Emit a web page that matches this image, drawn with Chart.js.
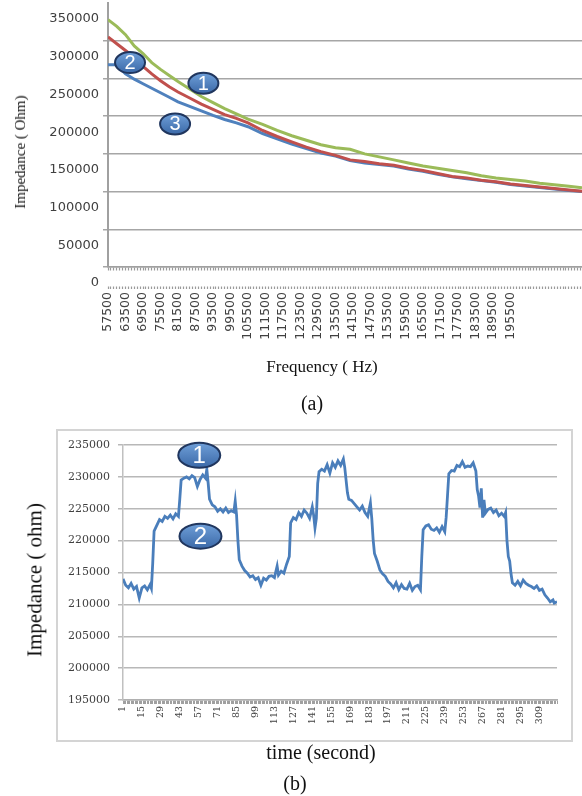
<!DOCTYPE html>
<html lang="en">
<head>
<meta charset="UTF-8">
<title>Impedance charts</title>
<script src="https://cdn.jsdelivr.net/npm/chart.js"></script>
<style>
  body { margin: 0; background: #fff; }
  #page { position: relative; width: 582px; height: 796px; overflow: hidden; background: #fff; }
  .abs { position: absolute; }
  .serif { font-family: 'Liberation Serif', 'Times New Roman', serif; color: #111; white-space: nowrap; line-height: 1.2; }
  .center { transform: translate(-50%, -50%); }
  .vert { transform: translate(-50%, -50%) rotate(-90deg); }
</style>
</head>
<body>
<div id="page">
  <canvas id="chartA" class="abs" width="582" height="390" style="left:0;top:0"></canvas>
  <div class="abs serif vert" style="left:20px;top:152px;font-size:15px">Impedance ( Ohm)</div>
  <div class="abs serif center" style="left:322px;top:367px;font-size:17px">Frequency ( Hz)</div>
  <div class="abs serif center" style="left:312px;top:403px;font-size:20px">(a)</div>

  <div class="abs" style="left:56px;top:429px;width:517px;height:313px;border:2px solid #d4d4d4;box-sizing:border-box"></div>
  <canvas id="chartB" class="abs" width="582" height="376" style="left:0;top:420px"></canvas>
  <div class="abs serif vert" style="left:35px;top:580px;font-size:21px">Impedance ( ohm)</div>
  <div class="abs serif center" style="left:321px;top:752px;font-size:20px">time (second)</div>
  <div class="abs serif center" style="left:295px;top:783px;font-size:20px">(b)</div>
</div>

<script>
// (a) impedance vs frequency, three electrodes
const freqHz = [57500, 60500, 63500, 66500, 69500, 72500, 75500, 78500, 81500, 85500,
  89500, 93500, 97500, 101500, 105500, 110500, 115500, 120500, 125500, 130500,
  135500, 140500, 145500, 150500, 155500, 160500, 165500, 170500, 175500, 180500,
  185500, 190500, 195500, 200500, 205500, 210500, 215500, 220000];
const impedance1 = [328000, 319000, 308000, 293000, 283000, 271000, 262000, 254000, 246000, 236000,
  226000, 218000, 210000, 203000, 196000, 189000, 181000, 174000, 168000, 162000,
  158000, 156000, 150000, 146000, 142000, 138000, 134000, 131000, 128000, 125000,
  121000, 118000, 116000, 114000, 111000, 109000, 107000, 105000];
const impedance2 = [305000, 296000, 287000, 278000, 266000, 256000, 247000, 239000, 232000, 224000,
  216000, 209000, 202000, 197000, 191000, 181000, 173000, 166000, 159000, 153000,
  148000, 142000, 140000, 137000, 135000, 131000, 128000, 124000, 120000, 118000,
  115000, 113000, 110000, 108000, 106000, 104000, 102000, 100500];
const impedance3 = [268000, 268000, 256000, 249000, 243000, 237000, 231000, 225000, 219000, 213000,
  207000, 201000, 195500, 191000, 186000, 177000, 170000, 163000, 157000, 151000,
  147000, 141000, 138000, 136000, 134000, 130000, 127000, 123000, 119500, 117000,
  114500, 112500, 109500, 107500, 105500, 103500, 101500, 100000];
const freqLabels = [57500, 63500, 69500, 75500, 81500, 87500, 93500, 99500, 105500, 111500,
  117500, 123500, 129500, 135500, 141500, 147500, 153500, 159500, 165500, 171500,
  177500, 183500, 189500, 195500];
const calloutsA = [
  { text: '1', x: 90200, y: 243600 },
  { text: '2', x: 65050, y: 271000 },
  { text: '3', x: 80500, y: 189700 }
];

// (b) impedance over time
const timeSec = [1, 3, 5, 7, 9, 11, 13, 15, 17, 19, 21, 22, 23, 24, 26, 28, 30, 32, 34, 36,
  38, 40, 42, 43, 44, 46, 48, 50, 52, 54, 56, 58, 60, 62, 63, 64, 65, 67, 69, 71,
  73, 75, 77, 79, 81, 83, 84, 85, 86, 87, 89, 91, 93, 95, 97, 99, 101, 103, 105, 107,
  109, 111, 113, 115, 116, 118, 120, 122, 124, 125, 127, 129, 131, 133, 135, 137, 139, 141, 142, 143,
  144, 145, 146, 148, 150, 152, 154, 156, 158, 160, 162, 164, 165, 167, 168, 170, 172, 174, 176, 178,
  180, 182, 184, 185, 186, 187, 189, 191, 193, 195, 197, 199, 201, 203, 205, 207, 209, 211, 213, 215,
  217, 219, 221, 222, 223, 225, 227, 229, 231, 233, 235, 237, 239, 240, 241, 242, 244, 246, 248, 250,
  252, 254, 256, 258, 260, 262, 263, 264, 265, 266, 267, 268, 269, 271, 273, 275, 277, 279, 281, 283,
  284, 285, 286, 287, 288, 289, 291, 293, 295, 297, 299, 301, 303, 305, 307, 309, 311, 313, 315, 317,
  319, 320, 322];
const impedanceB = [214000, 213000, 212600, 213300, 212400, 212800, 211000, 212600, 212900, 212300, 213100, 212500, 216500, 221500, 222400, 223300, 223000, 223800, 223500, 224000,
  223400, 224200, 223800, 226500, 229500, 229800, 230000, 229700, 230200, 229900, 228500, 229600, 230300, 229800, 231200, 229000, 226500, 225600, 225300, 224600,
  225000, 224500, 225100, 224400, 224700, 224500, 226200, 224000, 220000, 217000, 216000, 215300, 214900, 214300, 214500, 213900, 214200, 213000, 214100, 213800,
  214400, 214500, 214200, 216000, 214600, 215200, 214900, 216300, 217500, 222800, 223600, 223300, 224400, 223800, 224800, 224300, 223500, 225300, 224000, 222000,
  223500, 229000, 230800, 231200, 230900, 231900, 230600, 232200, 231500, 232500, 231800, 232800, 231500, 227500, 226500, 226300, 225800, 225300, 224800, 225400,
  224400, 223800, 225900, 223500, 220200, 218000, 216800, 215400, 214800, 214400, 213600, 213200, 212600, 213400, 212300, 213100, 212500, 212400, 213300, 212200,
  212800, 213000, 212300, 217500, 221700, 222300, 222500, 221800, 221600, 222000, 221300, 222200, 221400, 223600, 227000, 230500, 231000, 230900, 231800, 231600,
  232400, 231500, 231700, 231600, 232200, 230900, 228000, 227000, 225200, 228200, 223600, 226400, 224300, 224900, 225100, 224400, 224800, 223900, 224300, 223800,
  224400, 220000, 217500, 216800, 214800, 213400, 213000, 213600, 212900, 213800, 213300, 213000, 212800, 212500, 212900, 212200, 212400, 211500, 211000, 210400,
  210700, 210200, 210400];
const timeLabels = [1, 15, 29, 43, 57, 71, 85, 99, 113, 127, 141, 155, 169, 183, 197, 211, 225, 239, 253, 267, 281, 295, 309];
const calloutsB = [
  { text: '1', x: 57.4, y: 233400 },
  { text: '2', x: 58.3, y: 220700 }
];

// tick marks: one per category step, like the dotted axis of the original
const freqTickMarks = [];
for (let f = 57500; f <= 219500; f += 1000) freqTickMarks.push(f);
const secondTickMarks = [];
for (let s = 1; s <= 322; s++) secondTickMarks.push(s);

// numbered blue ovals placed in data coordinates
const calloutPlugin = {
  id: 'callouts',
  afterDatasetsDraw(chart, args, opts) {
    const { ctx } = chart;
    const xs = chart.scales.x, ys = chart.scales.y;
    (opts.items || []).forEach(item => {
      const cx = xs.getPixelForValue(item.x);
      const cy = ys.getPixelForValue(item.y);
      ctx.save();
      ctx.beginPath();
      ctx.ellipse(cx, cy, opts.rx, opts.ry, 0, 0, Math.PI * 2);
      const g = ctx.createLinearGradient(0, cy - opts.ry, 0, cy + opts.ry);
      g.addColorStop(0, '#6f9fd8');
      g.addColorStop(1, '#3b69a8');
      ctx.fillStyle = g;
      ctx.fill();
      ctx.lineWidth = 2;
      ctx.strokeStyle = '#20365e';
      ctx.stroke();
      ctx.fillStyle = '#ffffff';
      ctx.font = opts.fontSize + "px 'Liberation Sans', sans-serif";
      ctx.textAlign = 'center';
      ctx.textBaseline = 'middle';
      ctx.fillText(item.text, cx, cy + 1);
      ctx.restore();
    });
  }
};

new Chart(document.getElementById('chartA'), {
  type: 'line',
  data: {
    labels: freqHz,
    datasets: [
      { label: '2', data: impedance2, borderColor: '#c0504d' },
      { label: '1', data: impedance1, borderColor: '#9bbb59' },
      { label: '3', data: impedance3, borderColor: '#4f81bd' }
    ]
  },
  options: {
    responsive: false,
    animation: false,
    layout: { padding: { top: 3, right: 0, bottom: 0, left: 0 } },
    elements: { point: { radius: 0 }, line: { borderWidth: 3, tension: 0 } },
    plugins: {
      legend: { display: false },
      tooltip: { enabled: false },
      callouts: { items: calloutsA, rx: 15, ry: 10.5, fontSize: 20 }
    },
    scales: {
      x: {
        type: 'linear',
        min: 57500,
        max: 220000,
        afterBuildTicks: (scale) => { scale.ticks = freqTickMarks.map(v => ({ value: v })); },
        afterFit: (scale) => { scale.height = 123; scale.paddingLeft = 0; scale.paddingRight = 0; },
        ticks: {
          autoSkip: false, minRotation: 90, maxRotation: 90, padding: 3,
          color: '#404040', font: { family: 'DejaVu Sans', size: 12.5 },
          callback: (v) => freqLabels.includes(v) ? String(v) : ''
        },
        grid: { drawOnChartArea: false, tickLength: 22, tickColor: '#9a9a9a', tickWidth: 1.2, tickBorderDash: [3, 16, 3, 100] },
        border: { color: '#a0a0a0', width: 1.5 }
      },
      y: {
        min: 0,
        max: 350000,
        afterFit: (scale) => { scale.width = 108; scale.paddingTop = 0; scale.paddingBottom = 0; },
        ticks: {
          stepSize: 50000, labelOffset: 16, padding: 4, color: '#404040',
          font: { family: 'DejaVu Sans', size: 13 },
          callback: (v) => String(v)
        },
        grid: {
          color: (c) => (c.tick && c.tick.value === 350000) ? 'rgba(0,0,0,0)' : '#a6a6a6',
          lineWidth: 1.5, tickLength: 5
        },
        border: { color: '#a0a0a0', width: 2 }
      }
    }
  },
  plugins: [calloutPlugin]
});

new Chart(document.getElementById('chartB'), {
  type: 'line',
  data: {
    labels: timeSec,
    datasets: [{ label: 'Impedance', data: impedanceB, borderColor: '#4a7ebb' }]
  },
  options: {
    responsive: false,
    animation: false,
    layout: { padding: { top: 25, right: 25, bottom: 0, left: 0 } },
    elements: { point: { radius: 0 }, line: { borderWidth: 2.8, tension: 0 } },
    plugins: {
      legend: { display: false },
      tooltip: { enabled: false },
      callouts: { items: calloutsB, rx: 21, ry: 12.5, fontSize: 24 }
    },
    scales: {
      x: {
        type: 'linear',
        min: 1,
        max: 322,
        afterBuildTicks: (scale) => { scale.ticks = secondTickMarks.map(v => ({ value: v })); },
        afterFit: (scale) => { scale.height = 96; scale.paddingLeft = 0; scale.paddingRight = 0; },
        ticks: {
          autoSkip: false, minRotation: 90, maxRotation: 90, padding: 2,
          color: '#404040', font: { family: 'DejaVu Serif', size: 9.5 },
          callback: (v) => timeLabels.includes(v) ? String(v) : ''
        },
        grid: { drawOnChartArea: false, tickLength: 4, tickColor: '#a0a0a0', tickWidth: 1 },
        border: { color: '#b0b0b0', width: 1.5 }
      },
      y: {
        min: 195000,
        max: 235000,
        afterFit: (scale) => { scale.width = 123; scale.paddingTop = 0; scale.paddingBottom = 0; },
        ticks: {
          stepSize: 5000, padding: 8, color: '#404040',
          font: { family: 'DejaVu Serif', size: 11 },
          callback: (v) => String(v)
        },
        grid: { color: '#b8b8b8', lineWidth: 1.5, tickLength: 5 },
        border: { color: '#c0c0c0', width: 1.5 }
      }
    }
  },
  plugins: [calloutPlugin]
});
</script>
</body>
</html>
